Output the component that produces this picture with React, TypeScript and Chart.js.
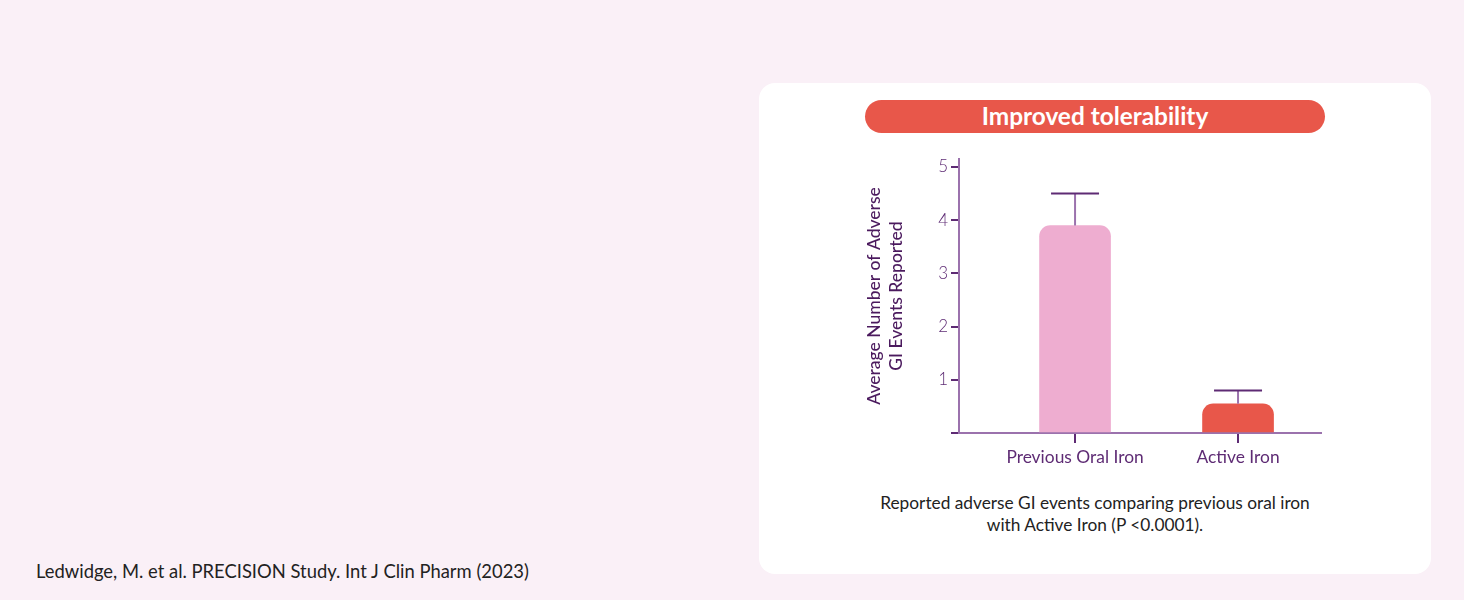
import { useEffect, useRef } from 'react'
import { Chart, registerables } from 'chart.js'

Chart.register(...registerables)

const categories = ['Previous Oral Iron', 'Active Iron']
const meanEvents = [3.9, 0.55]
const errorTop = [4.5, 0.8]
const barColors = ['#EEADD0', '#E8574A']
const yTicks = [0, 1, 2, 3, 4, 5]

const AXIS = '#9B72AD'
const DARK = '#5E2B74'
const FONT = 'Lato, "Open Sans", sans-serif'

// error bars: stem from bar top to the upper value, cap on top
const errorBars = {
  id: 'errorBars',
  afterDatasetsDraw(chart: any) {
    const { ctx, scales } = chart
    const meta = chart.getDatasetMeta(0)
    meta.data.forEach((bar: any, i: number) => {
      const x = bar.x
      const yTop = scales.y.getPixelForValue(errorTop[i])
      const yBar = scales.y.getPixelForValue(meanEvents[i])
      ctx.save()
      ctx.lineWidth = 2
      ctx.strokeStyle = AXIS
      ctx.beginPath()
      ctx.moveTo(x, yBar)
      ctx.lineTo(x, yTop)
      ctx.stroke()
      ctx.strokeStyle = DARK
      ctx.beginPath()
      ctx.moveTo(x - 24, yTop)
      ctx.lineTo(x + 24, yTop)
      ctx.stroke()
      ctx.restore()
    })
  },
}

function BarChart() {
  const canvasRef = useRef<HTMLCanvasElement | null>(null)

  useEffect(() => {
    if (!canvasRef.current) return
    const ctx = canvasRef.current.getContext('2d')
    if (!ctx) return

    const chart = new Chart(ctx, {
      type: 'bar',
      data: {
        datasets: [{
          data: categories.map((c, i) => ({ x: i + 1, y: meanEvents[i] })) as any,
          backgroundColor: barColors,
          barThickness: 71,
          borderRadius: { topLeft: 11, topRight: 11 },
          borderSkipped: 'bottom',
        }],
      },
      options: {
        animation: false,
        responsive: false,
        maintainAspectRatio: false,
        layout: { padding: { top: 20, right: 10, left: 0, bottom: 0 } },
        plugins: { legend: { display: false }, tooltip: { enabled: false } },
        scales: {
          x: {
            type: 'linear',
            min: 0.288,
            max: 2.509,
            offset: false,
            afterBuildTicks: (s: any) => { s.ticks = categories.map((c, i) => ({ value: i + 1 })) },
            afterFit: (s: any) => { s.height = 40 },
            border: { display: true, color: AXIS, width: 2 },
            grid: { display: true, offset: false, drawOnChartArea: false, drawTicks: true, tickLength: 10, color: DARK, lineWidth: 2 },
            ticks: {
              padding: 4,
              color: DARK,
              font: { family: FONT, size: 17.4 },
              callback: (v: any) => categories[Number(v) - 1] ?? '',
            },
          },
          y: {
            min: 0,
            max: 5.15,
            afterBuildTicks: (s: any) => { s.ticks = yTicks.map(v => ({ value: v })) },
            afterFit: (s: any) => { s.width = 99 },
            border: { display: true, color: AXIS, width: 2 },
            grid: { display: true, drawOnChartArea: false, drawTicks: true, tickLength: 8, color: DARK, lineWidth: 2 },
            ticks: {
              padding: 3,
              color: DARK,
              font: { family: FONT, size: 17, weight: 300 },
              callback: (v: any) => (v === 0 ? '' : String(v)),
            },
            title: {
              display: true,
              text: ['Average Number of Adverse', 'GI Events Reported'],
              color: '#4B1A5E',
              font: { family: FONT, size: 17.5, weight: 500, lineHeight: 1.24 },
              padding: { top: 4, bottom: 4 },
            },
          },
        },
      },
      plugins: [errorBars],
    })

    return () => chart.destroy()
  }, [])

  return <canvas ref={canvasRef} width={471} height={334} style={{ width: 471, height: 334, display: 'block' }} />
}

export default function App() {
  return (
    <div style={{ position: 'fixed', left: 0, top: 0, width: 1464, height: 600, background: '#FAF0F7', fontFamily: FONT, overflow: 'hidden' }}>
      <div style={{ position: 'absolute', left: 759, top: 83, width: 672, height: 491, background: '#FFFFFF', borderRadius: 16 }} />
      <div style={{
        position: 'absolute', left: 865, top: 100, width: 460, height: 33, borderRadius: 17, background: '#E8574A',
        color: '#FFFFFF', fontWeight: 700, fontSize: 24.4, lineHeight: '32px', textAlign: 'center',
      }}>Improved tolerability</div>
      <div style={{ position: 'absolute', left: 860, top: 139 }}>
        <BarChart />
      </div>
      <div style={{ position: 'absolute', left: 759, top: 492, width: 672, textAlign: 'center', fontSize: 17.3, lineHeight: '22px', color: '#222222' }}>
        Reported adverse GI events comparing previous oral iron<br />with Active Iron (P &lt;0.0001).
      </div>
      <div style={{ position: 'absolute', left: 36, top: 560, fontSize: 18.4, lineHeight: '22px', color: '#222222' }}>
        Ledwidge, M. et al. PRECISION Study. Int J Clin Pharm (2023)
      </div>
    </div>
  )
}
